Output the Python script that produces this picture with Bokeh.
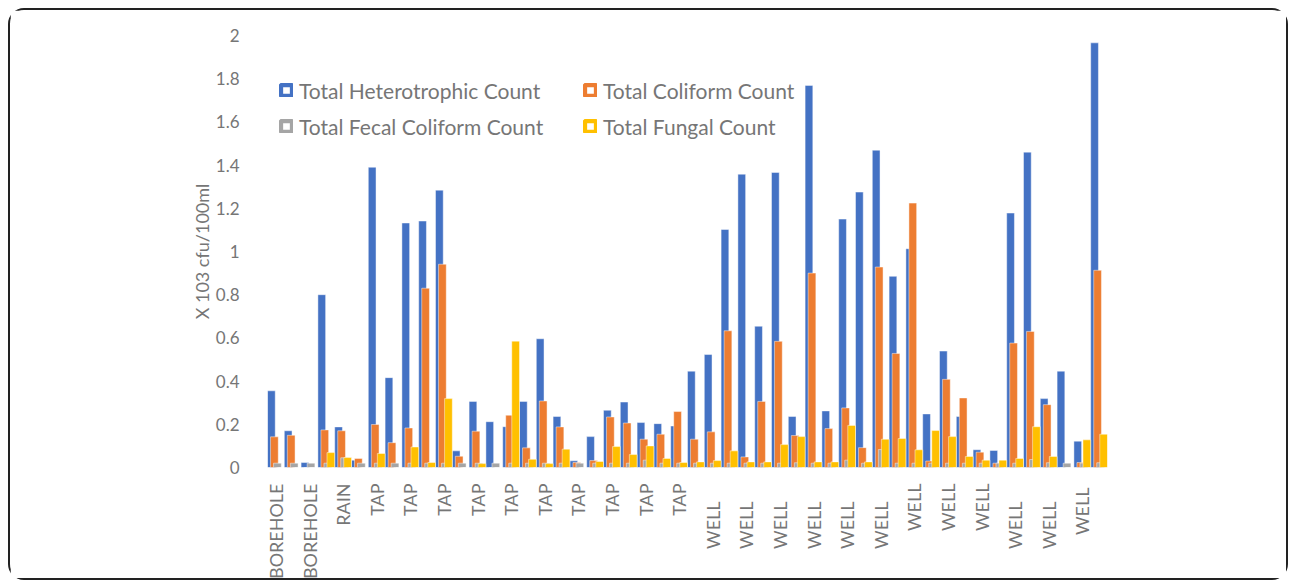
import math
from bokeh.plotting import figure
from bokeh.models import Range1d, FixedTicker, Legend, LegendItem, ColumnDataSource
from bokeh.transform import dodge
from bokeh.embed import file_html
from bokeh.resources import INLINE

NB = "\u00a0"

# ---- data -------------------------------------------------------------
# one label shown for every other sample (Excel skipped alternate labels)
x_tick_labels = [
    "BOREHOLE", "BOREHOLE", "RAIN",
    "TAP", "TAP", "TAP", "TAP", "TAP", "TAP", "TAP", "TAP", "TAP", "TAP",
    "WELL" + NB * 4, "WELL" + NB * 4, "WELL" + NB * 4, "WELL" + NB * 4,
    "WELL" + NB * 4, "WELL" + NB * 4, "WELL", "WELL", "WELL",
    "WELL" + NB * 4, "WELL" + NB * 4, "WELL" + NB,
]

heterotrophic = [
    0.355, 0.170, 0.023, 0.800, 0.188, 0.034, 1.390, 0.416, 1.132, 1.141,
    1.284, 0.077, 0.306, 0.212, 0.189, 0.306, 0.596, 0.236, 0.031, 0.143,
    0.265, 0.303, 0.208, 0.203, 0.192, 0.446, 0.523, 1.102, 1.358, 0.654,
    1.366, 0.236, 1.769, 0.262, 1.150, 1.275, 1.469, 0.885, 1.013, 0.248,
    0.539, 0.236, 0.082, 0.079, 1.178, 1.460, 0.319, 0.446, 0.122, 1.966,
]
coliform = [
    0.142, 0.149, 0.000, 0.174, 0.170, 0.042, 0.199, 0.115, 0.183, 0.830,
    0.941, 0.052, 0.168, 0.000, 0.242, 0.091, 0.308, 0.188, 0.023, 0.032,
    0.234, 0.206, 0.131, 0.154, 0.259, 0.131, 0.165, 0.633, 0.049, 0.306,
    0.584, 0.148, 0.900, 0.180, 0.276, 0.092, 0.928, 0.528, 1.224, 0.030,
    0.408, 0.322, 0.071, 0.020, 0.576, 0.630, 0.291, 0.000, 0.023, 0.913,
]
fecal = [
    0.020, 0.020, 0.020, 0.020, 0.045, 0.020, 0.020, 0.020, 0.020, 0.020,
    0.020, 0.020, 0.020, 0.020, 0.020, 0.020, 0.020, 0.020, 0.020, 0.020,
    0.020, 0.020, 0.034, 0.020, 0.020, 0.020, 0.020, 0.020, 0.020, 0.020,
    0.020, 0.022, 0.020, 0.020, 0.034, 0.020, 0.083, 0.020, 0.020, 0.020,
    0.020, 0.020, 0.020, 0.020, 0.020, 0.037, 0.022, 0.020, 0.020, 0.022,
]
fungal = [
    0.000, 0.000, 0.000, 0.069, 0.046, 0.000, 0.065, 0.000, 0.095, 0.023,
    0.319, 0.000, 0.018, 0.000, 0.585, 0.038, 0.018, 0.085, 0.000, 0.028,
    0.097, 0.060, 0.100, 0.042, 0.023, 0.026, 0.032, 0.077, 0.026, 0.026,
    0.106, 0.143, 0.026, 0.026, 0.195, 0.026, 0.131, 0.134, 0.082, 0.171,
    0.143, 0.051, 0.034, 0.034, 0.042, 0.189, 0.051, 0.000, 0.128, 0.154,
]

series_names = ["Total Heterotrophic Count", "Total Coliform Count",
                "Total Fecal Coliform Count", "Total Fungal Count"]
series_keys = ["het", "col", "fec", "fun"]
colors = ["#4472C4", "#ED7D31", "#A5A5A5", "#FFC000"]

y_ticks = [0, 0.2, 0.4, 0.6, 0.8, 1, 1.2, 1.4, 1.6, 1.8, 2]
y_tick_labels = ["0", "0.2", "0.4", "0.6", "0.8", "1", "1.2", "1.4", "1.6", "1.8", "2"]
y_title = "X 103 cfu/100ml"

# ---- figure -----------------------------------------------------------
n = len(heterotrophic)
src = ColumnDataSource(dict(
    x=list(range(n)), het=heterotrophic, col=coliform, fec=fecal, fun=fungal))

TXT = "#767676"
FONT = "Lato"

p = figure(width=1280, height=572,
           x_range=Range1d(-0.5, n - 0.5), y_range=Range1d(0, 2),
           output_backend="svg", toolbar_location=None,
           min_border_left=257, min_border_right=183,
           min_border_top=25, min_border_bottom=112)
p.styles = {"border": "2px solid #222222", "border-radius": "16px",
            "margin-left": "8px", "margin-top": "8px"}
p.outline_line_color = None
p.xgrid.grid_line_color = None
p.ygrid.grid_line_color = None
p.background_fill_color = "white"
p.border_fill_color = "white"

offsets = [-0.27, -0.09, 0.09, 0.27]
for key, col, off in zip(series_keys, colors, offsets):
    p.vbar(x=dodge("x", off, range=p.x_range), top=key, bottom=0, width=0.46,
           source=src, fill_color=col, line_color="white", line_alpha=0.45,
           line_width=1)

# x axis
xa = p.xaxis[0]
xa.ticker = FixedTicker(ticks=list(range(0, n, 2)))
xa.major_label_overrides = {i * 2: lab for i, lab in enumerate(x_tick_labels)}
xa.major_label_orientation = math.pi / 2
xa.major_label_text_font = FONT
xa.major_label_text_font_size = "18px"
xa.major_label_text_color = TXT
xa.major_label_standoff = 10
xa.axis_line_color = None
xa.major_tick_line_color = None
xa.minor_tick_line_color = None

# y axis
ya = p.yaxis[0]
ya.ticker = FixedTicker(ticks=y_ticks)
ya.major_label_overrides = dict(zip(y_ticks, y_tick_labels))
ya.major_label_text_font = FONT
ya.major_label_text_font_size = "17px"
ya.major_label_text_color = TXT
ya.major_label_standoff = 22
ya.axis_line_color = None
ya.major_tick_line_color = None
ya.minor_tick_line_color = None
ya.axis_label = y_title
ya.axis_label_text_font = FONT
ya.axis_label_text_font_size = "18px"
ya.axis_label_text_font_style = "normal"
ya.axis_label_text_color = TXT
ya.axis_label_standoff = 0

# legend (keys drawn as coloured squares with white centres)
items = []
for name, col in zip(series_names, colors):
    r = p.quad(left=[-5], right=[-4], top=[0], bottom=[0], fill_color="white",
               line_color=col, line_width=4.5)
    items.append(LegendItem(label=name, renderers=[r]))


def make_legend(its, loc):
    lg = Legend(items=its, location=loc, orientation="vertical",
                glyph_width=14, glyph_height=14, label_height=26,
                label_standoff=6, spacing=10, padding=0, margin=0,
                label_text_font=FONT, label_text_font_size="21px",
                label_text_color=TXT, background_fill_alpha=0,
                border_line_alpha=0)
    p.add_layout(lg, "center")


make_legend([items[0], items[2]], (12, 328))
make_legend([items[1], items[3]], (316, 328))

open("out.html", "w").write(file_html(p, INLINE))
